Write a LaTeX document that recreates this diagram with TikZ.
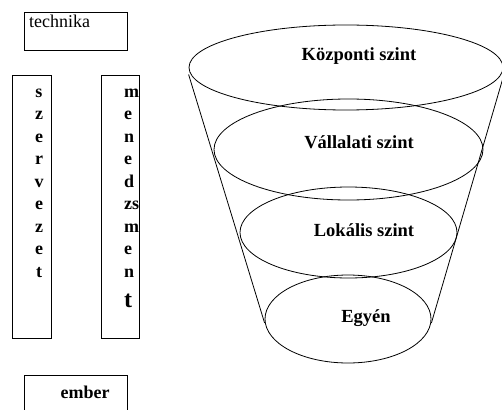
\documentclass[tikz,border=0pt]{standalone}
\usepackage{fontspec}
\setmainfont{Liberation Serif}
\usetikzlibrary{shapes.geometric}

\tikzset{
	box/.style = {draw, thick, inner sep=0pt, anchor=north west},
	level/.style = {draw, thick, ellipse, inner sep=0pt},
	lbl/.style = {font=\fontsize{18.5}{22}\selectfont\bfseries, anchor=base, inner sep=0pt},
	letter/.style = {font=\fontsize{18}{22}\selectfont\bfseries, anchor=base, inner sep=0pt}
}

\begin{document}
\begin{tikzpicture}[x=1pt, y=-1pt]
			\useasboundingbox (0,0) rectangle (502,409);
			% left boxes
			\node[box, minimum width=103pt, minimum height=38pt] (tech) at (24,12) {};
			\node[anchor=base west, inner sep=0pt, font=\fontsize{18}{22}\selectfont] (techtxt) at (29,28) {technika};
			\node[box, minimum width=39pt, minimum height=263pt] (szerv) at (12,75) {};
			\node[box, minimum width=38pt, minimum height=263pt] (mened) at (101,75) {};
			\node[box, minimum width=103pt, minimum height=40pt] (ember) at (24,375) {};
			\node[lbl, font=\fontsize{18}{22}\selectfont\bfseries] (embertxt) at (85,398) {ember};
			\foreach \c [count=\i from 0] in {s,z,e,r,v,e,z,e,t}
				\node[letter] (sz\i) at (39, 97+22.5*\i) {\c};
			\foreach \c [count=\i from 0] in {m,e,n,e,d,zs,m,e,n}
				\node[letter, anchor=base west] (me\i) at (124, 97+22.5*\i) {\c};
			\node[letter, anchor=base west, font=\fontsize{24}{28}\selectfont\bfseries] (me9) at (124,307) {t};
			% funnel
			\node[level, minimum width=314pt, minimum height=85pt] (kozp) at (346,67.5) {};
			\node[level, minimum width=269pt, minimum height=101pt] (vall) at (348.5,149.5) {};
			\node[level, minimum width=217pt, minimum height=91pt] (lok) at (348.5,232.5) {};
			\node[level, minimum width=166pt, minimum height=88pt] (egy) at (348,319) {};
			\draw[thick] ([yshift=-7pt]kozp.west) -- ([yshift=-4pt]egy.west);
			\draw[thick] ([yshift=-9pt]kozp.east) -- ([yshift=-4pt]egy.east);
			\node[lbl] (kozptxt) at (359,60.5) {Központi szint};
			\node[lbl] (valltxt) at (359,148) {Vállalati szint};
			\node[lbl] (loktxt) at (364,236) {Lokális szint};
			\node[lbl] (egytxt) at (366,322) {Egyén};
		\end{tikzpicture}
\end{document}
